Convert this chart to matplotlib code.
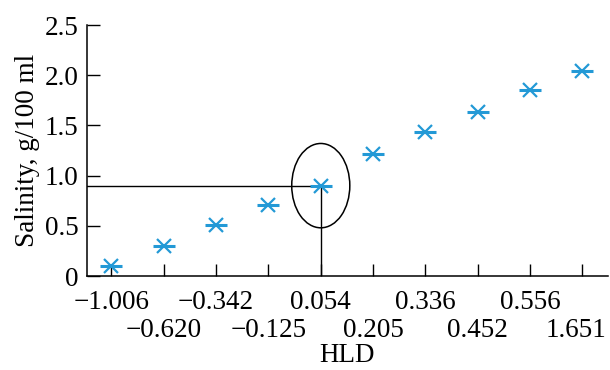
import matplotlib
matplotlib.use("Agg")
import matplotlib.pyplot as plt
import matplotlib.transforms as mtransforms
from matplotlib.patches import Ellipse

hld_labels = ["−1.006", "−0.620", "−0.342", "−0.125", "0.054",
              "0.205", "0.336", "0.452", "0.556", "1.651"]
salinity = [0.10, 0.30, 0.51, 0.71, 0.90, 1.22, 1.43, 1.63, 1.85, 2.04]
y_ticks = [0, 0.5, 1.0, 1.5, 2.0, 2.5]
y_tick_labels = ["0", "0.5", "1.0", "1.5", "2.0", "2.5"]
highlight_index = 4

plt.rcParams['font.family'] = ['Liberation Serif', 'DejaVu Serif']

fig = plt.figure(figsize=(6.1, 3.7), dpi=100)
ax = fig.add_axes([86.7/610, 1-276/370, (608-86.7)/610, (276-25)/370])

xs = list(range(len(salinity)))
color = '#2399d6'
ax.plot(xs, salinity, linestyle='none', marker='x', markersize=10,
        markeredgewidth=1.6, color=color, zorder=5)
ax.plot(xs, salinity, linestyle='none', marker='_', markersize=16,
        markeredgewidth=2.2, color=color, zorder=5)

xl = (-0.474, 9.49)
ax.set_xlim(*xl)
ax.set_ylim(0, 2.5)

hx = xs[highlight_index]
hy = salinity[highlight_index]
ax.plot([xl[0], hx], [hy, hy], color='black', lw=1.0, zorder=3)
ax.plot([hx, hx], [0, hy], color='black', lw=1.0, zorder=3)
ax.add_patch(Ellipse((hx, hy), width=1.11, height=0.84,
                     fill=False, edgecolor='black', lw=1.1, zorder=4))

ax.set_xticks(xs)
ax.set_xticklabels(hld_labels)
ax.set_yticks(y_ticks)
ax.set_yticklabels(y_tick_labels)
ax.tick_params(direction='in', length=9, width=1.0, labelsize=19.5)
ax.tick_params(axis='y', pad=6)
ax.tick_params(axis='x', pad=10.4)
ticks = ax.xaxis.get_major_ticks()
for i, t in enumerate(ticks):
    if i % 2 == 1:
        t.set_pad(30.3)
last = ticks[-1].label1
last.set_transform(last.get_transform() +
                   mtransforms.ScaledTranslation(-6/100, 0, fig.dpi_scale_trans))

for s in ['top', 'right']:
    ax.spines[s].set_visible(False)
for s in ['left', 'bottom']:
    ax.spines[s].set_linewidth(1.1)

ax.set_xlabel("HLD", fontsize=19.5, labelpad=0)
ax.set_ylabel("Salinity, g/100 ml", fontsize=19.5, labelpad=3)

fig.savefig("out.png", dpi=100)
